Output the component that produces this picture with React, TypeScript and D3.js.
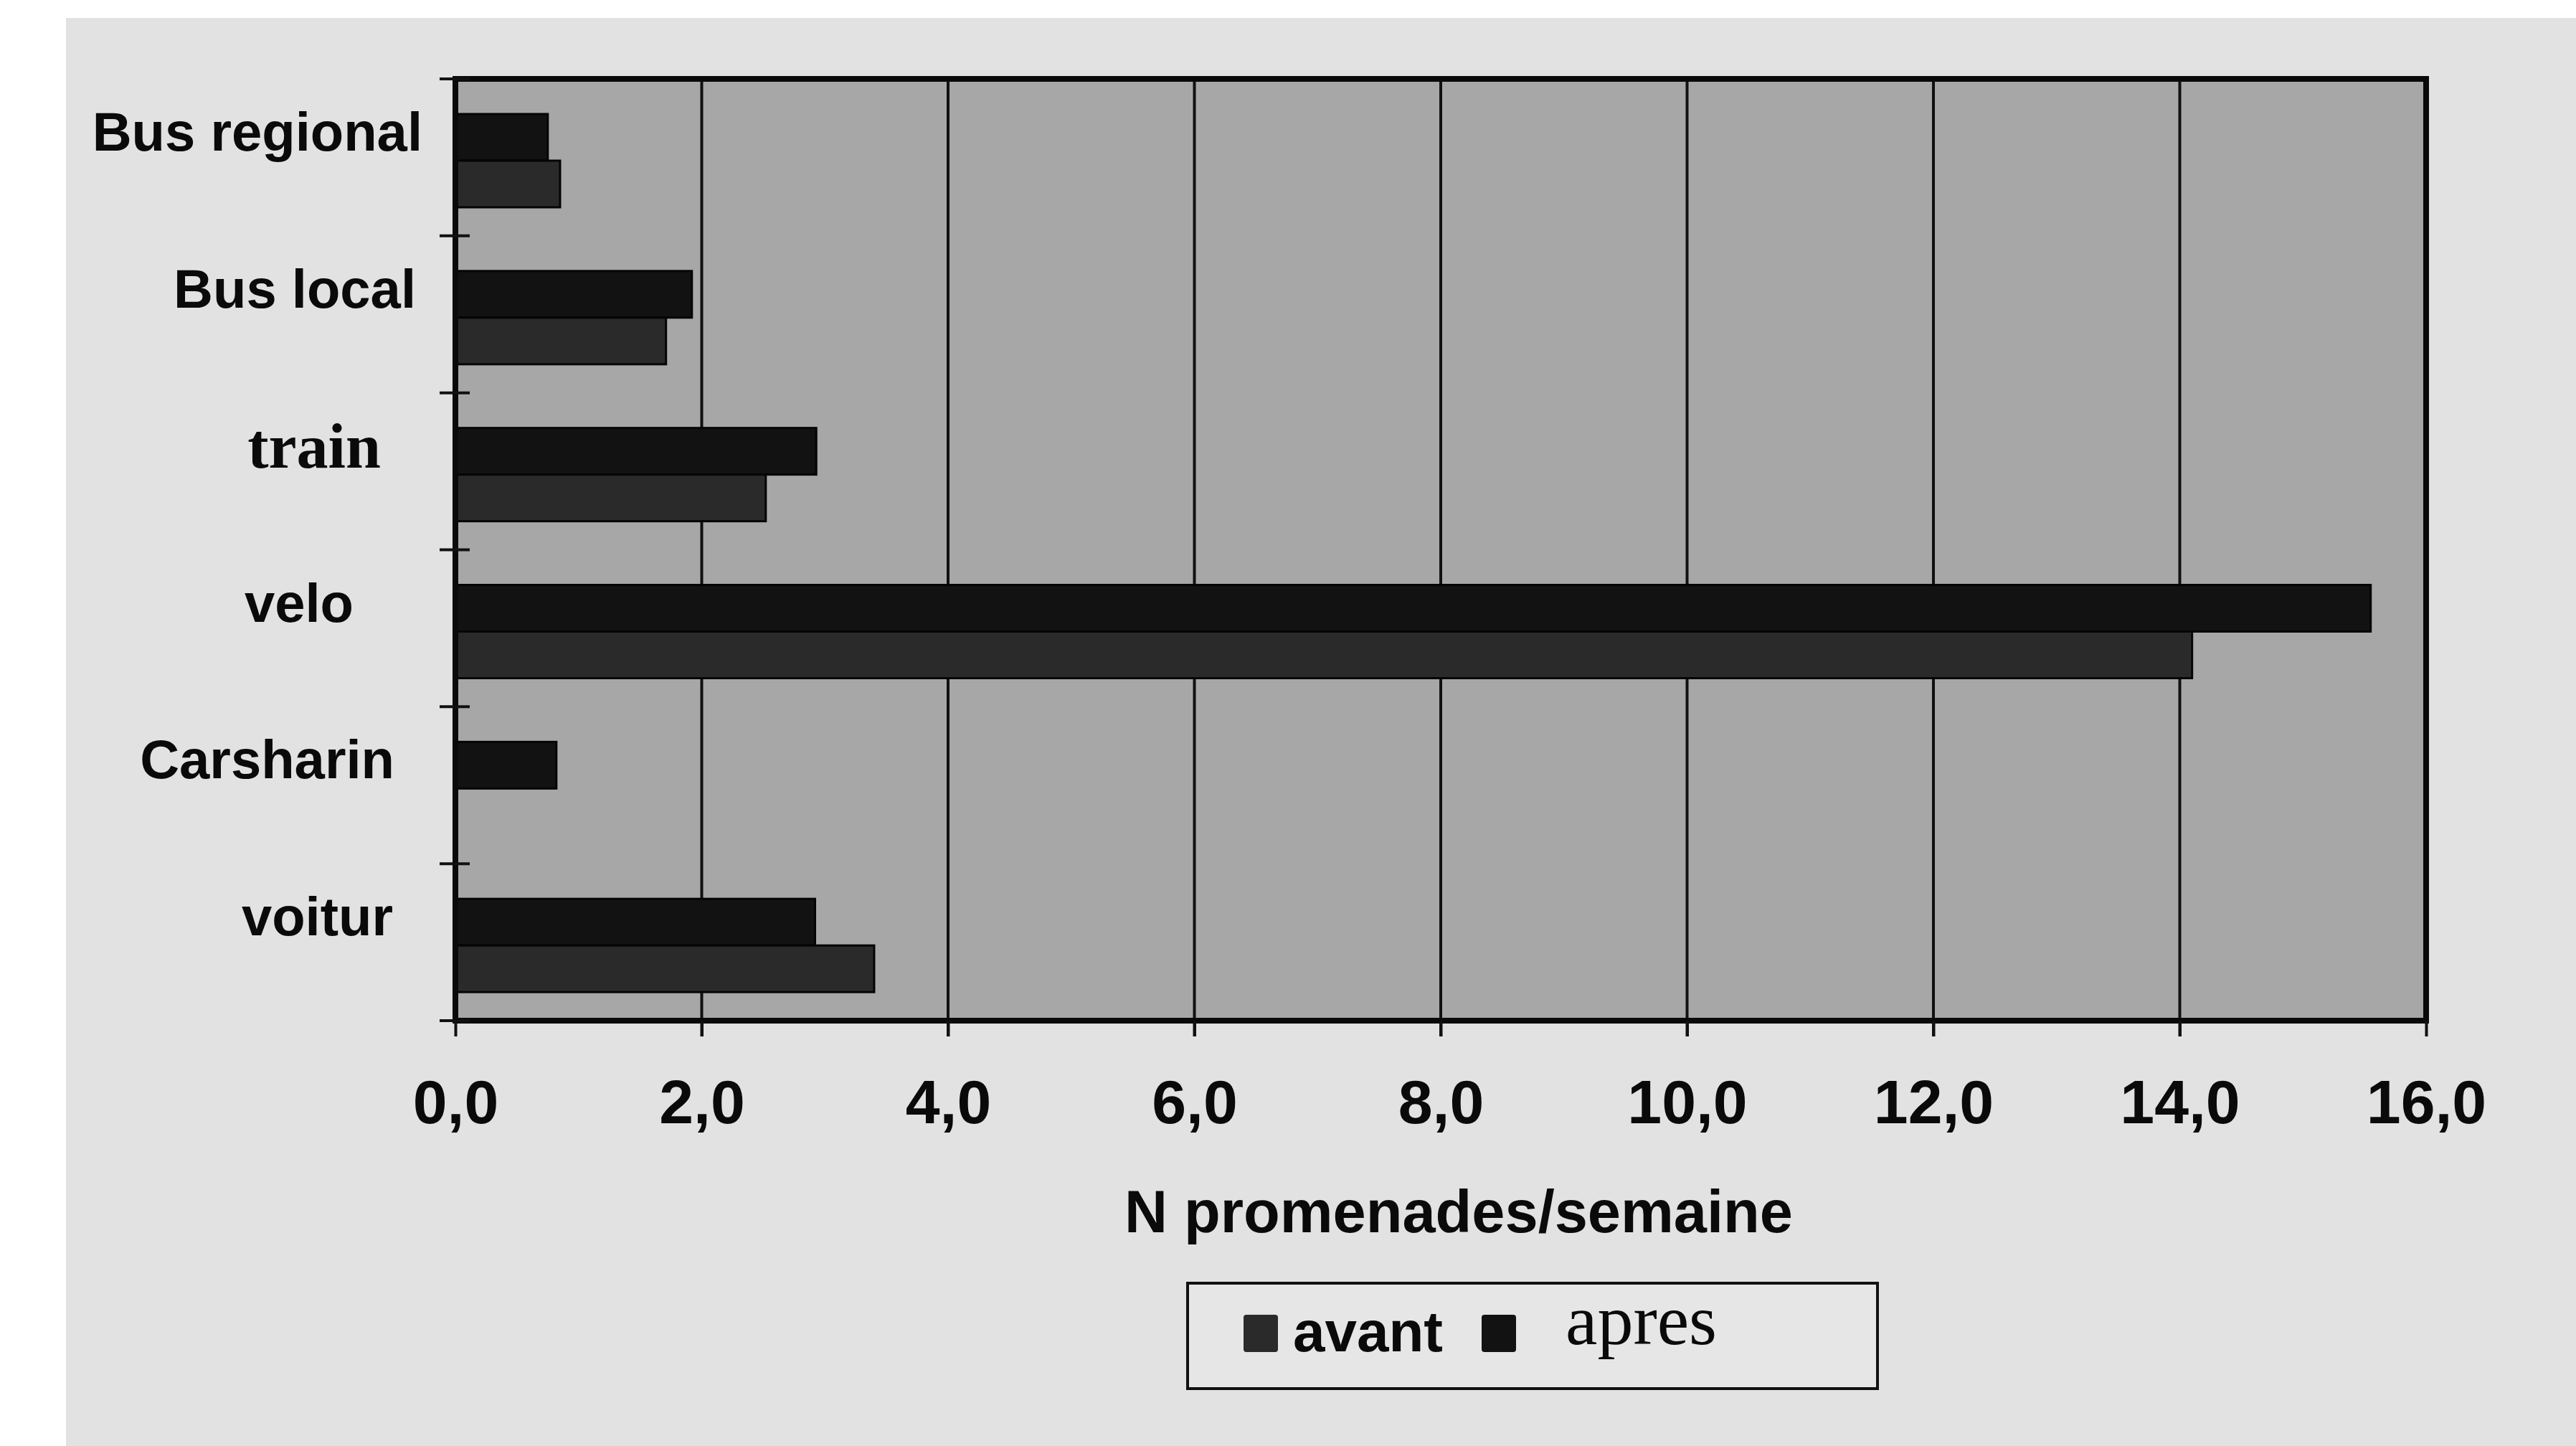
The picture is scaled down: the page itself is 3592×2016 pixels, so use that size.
import * as d3 from "d3";
import { useEffect, useRef } from "react";

// categories top to bottom, as printed
const categories = ["Bus regional", "Bus local", "train", "velo", "Carsharin", "voitur"];
// each group: "apres" bar on top, "avant" bar below
const barOrder = ["apres", "avant"];
const apres = [0.75, 1.92, 2.93, 15.55, 0.82, 2.92];
const avant = [0.85, 1.71, 2.52, 14.1, 0, 3.4];
const xTicks = [0, 2, 4, 6, 8, 10, 12, 14, 16];
const legendItems = ["avant", "apres"];

const W = 3592;
const H = 2016;
const sans = "'Liberation Sans', Arial, sans-serif";
const serif = "'Liberation Serif', 'Times New Roman', serif";
const fills: Record<string, string> = { apres: "#121212", avant: "#2a2a2a" };

// the scan's labels are not aligned: right edge of each one
const labelRight = [589, 580, 531, 493, 550, 548];

export default function App() {
  const ref = useRef<SVGSVGElement | null>(null);

  useEffect(() => {
    document.body.style.margin = "0";
    if (!ref.current) return;
    const svg = d3.select(ref.current);
    svg.selectAll("*").remove();

    const left = 635;
    const right = 3383;
    const top = 110;
    const bottom = 1423;

    const x = d3.scaleLinear().domain([0, 16]).range([left, right]);
    const y = d3.scaleBand().domain(categories).range([top, bottom]).padding(0);
    const inner = d3.scaleBand().domain(barOrder).range([49, 179]).padding(0);

    // paper
    svg.append("rect").attr("width", W).attr("height", H).attr("fill", "#ffffff");
    svg.append("rect").attr("x", 92).attr("y", 25).attr("width", W - 92).attr("height", H - 25).attr("fill", "#e2e2e2");

    // plot area
    svg.append("rect")
      .attr("x", left).attr("y", top)
      .attr("width", right - left).attr("height", bottom - top)
      .attr("fill", "#a7a7a7");

    // grid
    svg.append("g")
      .selectAll("line")
      .data(xTicks.slice(1, -1))
      .enter()
      .append("line")
      .attr("x1", (d) => x(d)).attr("x2", (d) => x(d))
      .attr("y1", top).attr("y2", bottom + 22)
      .attr("stroke", "#111").attr("stroke-width", 4);

    // bars
    const rows = categories.map((c, i) => ({ cat: c, apres: apres[i], avant: avant[i] }));
    svg.append("g")
      .selectAll("g")
      .data(rows)
      .enter()
      .append("g")
      .attr("transform", (d) => `translate(0,${y(d.cat)})`)
      .selectAll("rect")
      .data((d) => barOrder.map((k) => ({ key: k, value: (d as any)[k] as number })).filter((b) => b.value > 0))
      .enter()
      .append("rect")
      .attr("x", x(0))
      .attr("y", (d) => inner(d.key) ?? 0)
      .attr("width", (d) => x(d.value) - x(0))
      .attr("height", inner.bandwidth())
      .attr("fill", (d) => fills[d.key])
      .attr("stroke", "#050505")
      .attr("stroke-width", 3);

    // frame
    svg.append("rect")
      .attr("x", left).attr("y", top)
      .attr("width", right - left).attr("height", bottom - top)
      .attr("fill", "none").attr("stroke", "#0a0a0a").attr("stroke-width", 8);

    // left ticks at category boundaries
    const bounds = categories.map((c) => y(c) ?? 0).concat([bottom]);
    svg.append("g")
      .selectAll("line")
      .data(bounds)
      .enter()
      .append("line")
      .attr("x1", left - 22).attr("x2", left + 20)
      .attr("y1", (d) => d).attr("y2", (d) => d)
      .attr("stroke", "#111").attr("stroke-width", 4);

    // bottom axis
    const axis = svg.append("g")
      .attr("transform", `translate(0,${bottom})`)
      .call(d3.axisBottom(x).tickValues(xTicks).tickSize(22).tickSizeOuter(0).tickFormat((d) => d3.format(".1f")(d as number).replace(".", ",")));
    axis.select(".domain").remove();
    axis.selectAll("line").attr("stroke", "#111").attr("stroke-width", 4);
    axis.selectAll("text")
      .attr("y", 0)
      .attr("dy", 0)
      .attr("transform", "translate(0,143)")
      .attr("fill", "#0a0a0a")
      .attr("font-family", sans)
      .attr("font-weight", "bold")
      .attr("font-size", "86px");

    // category labels
    svg.append("g")
      .selectAll("text")
      .data(categories)
      .enter()
      .append("text")
      .attr("x", (_, i) => labelRight[i])
      .attr("y", (d) => (y(d) ?? 0) + (inner("apres") ?? 0) + inner.bandwidth() / 2 - 8)
      .attr("dy", "0.35em")
      .attr("text-anchor", "end")
      .attr("font-family", (d) => (d === "train" ? serif : sans))
      .attr("font-weight", "bold")
      .attr("font-size", (d) => (d === "train" ? "88px" : "76px"))
      .attr("fill", "#0a0a0a")
      .text((d) => d);

    // axis title
    svg.append("text")
      .attr("x", 2034).attr("y", 1718)
      .attr("text-anchor", "middle")
      .attr("font-family", sans).attr("font-weight", "bold").attr("font-size", "83px")
      .attr("fill", "#0a0a0a")
      .text("N promenades/semaine");

    // legend
    const lg = svg.append("g");
    lg.append("rect")
      .attr("x", 1656).attr("y", 1789).attr("width", 962).attr("height", 147)
      .attr("fill", "#e6e6e6").attr("stroke", "#111").attr("stroke-width", 4);
    const legendX = [1734, 2066];
    const textX = [1803, 2183];
    legendItems.forEach((k, i) => {
      lg.append("rect")
        .attr("x", legendX[i]).attr("y", 1833).attr("width", 48).attr("height", 52)
        .attr("rx", 4)
        .attr("fill", fills[k]);
      lg.append("text")
        .attr("x", textX[i]).attr("y", k === "apres" ? 1874 : 1884)
        .attr("font-family", k === "apres" ? serif : sans)
        .attr("font-weight", k === "apres" ? "normal" : "bold")
        .attr("font-size", k === "apres" ? "100px" : "80px")
        .attr("fill", "#0a0a0a")
        .text(k);
    });
  }, []);

  return <svg ref={ref} width={W} height={H} viewBox={`0 0 ${W} ${H}`} style={{ display: "block" }} />;
}
